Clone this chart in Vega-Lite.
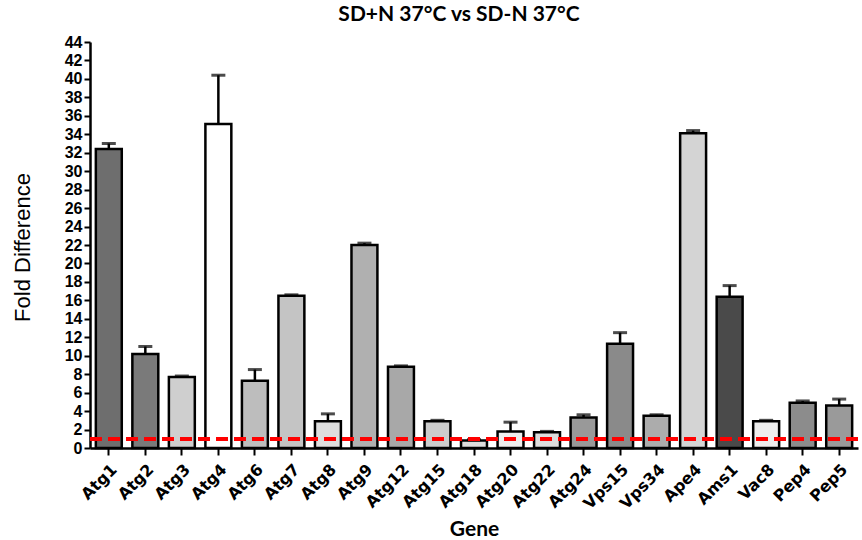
{
  "$schema": "https://vega.github.io/schema/vega-lite/v6.json",
  "autosize": "none",
  "width": 768,
  "height": 406,
  "padding": {"left": 90, "top": 42, "right": 4, "bottom": 92},
  "background": "white",
  "title": {
    "text": "SD+N 37°C vs SD-N 37°C",
    "font": "Lato",
    "fontSize": 21,
    "fontWeight": "bold",
    "color": "black",
    "anchor": "middle",
    "dx": -15,
    "offset": 9
  },
  "data": {
    "values": [
      {"gene": "Atg1", "value": 32.4, "upper": 33.0},
      {"gene": "Atg2", "value": 10.2, "upper": 11.0},
      {"gene": "Atg3", "value": 7.7, "upper": 7.8},
      {"gene": "Atg4", "value": 35.1, "upper": 40.4},
      {"gene": "Atg6", "value": 7.3, "upper": 8.5},
      {"gene": "Atg7", "value": 16.5, "upper": 16.6},
      {"gene": "Atg8", "value": 2.9, "upper": 3.7},
      {"gene": "Atg9", "value": 22.0, "upper": 22.2},
      {"gene": "Atg12", "value": 8.8, "upper": 8.9},
      {"gene": "Atg15", "value": 2.9, "upper": 3.0},
      {"gene": "Atg18", "value": 0.8, "upper": 0.9},
      {"gene": "Atg20", "value": 1.8, "upper": 2.8},
      {"gene": "Atg22", "value": 1.7, "upper": 1.8},
      {"gene": "Atg24", "value": 3.3, "upper": 3.6},
      {"gene": "Vps15", "value": 11.3, "upper": 12.5},
      {"gene": "Vps34", "value": 3.5, "upper": 3.6},
      {"gene": "Ape4", "value": 34.1, "upper": 34.4},
      {"gene": "Ams1", "value": 16.4, "upper": 17.6},
      {"gene": "Vac8", "value": 2.9, "upper": 3.0},
      {"gene": "Pep4", "value": 4.9, "upper": 5.1},
      {"gene": "Pep5", "value": 4.6, "upper": 5.3}
    ]
  },
  "encoding": {
    "x": {
      "field": "gene",
      "type": "nominal",
      "sort": null,
      "title": "Gene",
      "scale": {"paddingInner": 0.29, "paddingOuter": 0.16},
      "axis": {
        "labelAngle": -45,
        "labelFont": "DejaVu Sans",
        "labelFontWeight": "bold",
        "labelFontSize": 16,
        "labelColor": "black",
        "labelPadding": 6,
        "labelOverlap": false,
        "tickColor": "black",
        "tickWidth": 2,
        "tickSize": 7,
        "domainColor": "black",
        "domainWidth": 2.5,
        "titleFont": "Lato",
        "titleFontWeight": "bold",
        "titleFontSize": 21,
        "titleColor": "black",
        "titleBaseline": "alphabetic",
        "titleY": 87
      }
    }
  },
  "layer": [
    {
      "mark": {"type": "bar", "stroke": "black", "strokeWidth": 2.5},
      "encoding": {
        "y": {
          "field": "value",
          "type": "quantitative",
          "title": "Fold Difference",
          "scale": {"domain": [0, 44], "nice": false},
          "axis": {
            "values": [0, 2, 4, 6, 8, 10, 12, 14, 16, 18, 20, 22, 24, 26, 28, 30, 32, 34, 36, 38, 40, 42, 44],
            "grid": false,
            "labelOverlap": false,
            "labelBound": false,
            "labelFont": "Liberation Sans",
            "labelFontWeight": "bold",
            "labelFontSize": 16,
            "labelColor": "black",
            "labelPadding": 2,
            "tickColor": "black",
            "tickWidth": 2,
            "tickSize": 6,
            "domainColor": "black",
            "domainWidth": 2.5,
            "titleFont": "Liberation Sans",
            "titleFontWeight": "normal",
            "titleFontSize": 22,
            "titleColor": "black",
            "titleX": -56,
            "titleY": 205,
            "titleAngle": -90,
            "titleAlign": "center",
            "titleBaseline": "bottom"
          }
        },
        "fill": {
          "field": "gene",
          "type": "nominal",
          "legend": null,
          "scale": {
            "domain": ["Atg1", "Atg2", "Atg3", "Atg4", "Atg6", "Atg7", "Atg8", "Atg9", "Atg12", "Atg15", "Atg18", "Atg20", "Atg22", "Atg24", "Vps15", "Vps34", "Ape4", "Ams1", "Vac8", "Pep4", "Pep5"],
            "range": ["#6e6e6e", "#7a7a7a", "#cfcfcf", "#ffffff", "#bdbdbd", "#c4c4c4", "#dedede", "#b0b0b0", "#a8a8a8", "#cccccc", "#dddddd", "#eeeeee", "#dddddd", "#999999", "#8a8a8a", "#acacac", "#d4d4d4", "#4a4a4a", "#eeeeee", "#8c8c8c", "#9a9a9a"]
          }
        }
      }
    },
    {
      "mark": {"type": "rule", "color": "black", "strokeWidth": 2.5},
      "encoding": {
        "y": {
          "field": "value",
          "type": "quantitative",
          "title": "Fold Difference",
          "axis": {
            "values": [0, 2, 4, 6, 8, 10, 12, 14, 16, 18, 20, 22, 24, 26, 28, 30, 32, 34, 36, 38, 40, 42, 44],
            "grid": false,
            "labelOverlap": false,
            "labelBound": false
          }
        },
        "y2": {"field": "upper"}
      }
    },
    {
      "mark": {"type": "tick", "color": "black", "thickness": 3, "size": 14, "orient": "horizontal"},
      "encoding": {
        "y": {
          "field": "upper",
          "type": "quantitative",
          "title": "Fold Difference",
          "axis": {
            "values": [0, 2, 4, 6, 8, 10, 12, 14, 16, 18, 20, 22, 24, 26, 28, 30, 32, 34, 36, 38, 40, 42, 44],
            "grid": false,
            "labelOverlap": false,
            "labelBound": false
          }
        }
      }
    },
    {
      "mark": {"type": "rule", "color": "#ff0000", "strokeWidth": 3, "strokeDash": [12, 6]},
      "encoding": {
        "x": {"value": 0},
        "x2": {"value": 768},
        "y": {
          "datum": 1,
          "type": "quantitative",
          "title": "Fold Difference",
          "axis": {
            "values": [0, 2, 4, 6, 8, 10, 12, 14, 16, 18, 20, 22, 24, 26, 28, 30, 32, 34, 36, 38, 40, 42, 44],
            "grid": false,
            "labelOverlap": false,
            "labelBound": false
          }
        }
      }
    }
  ],
  "config": {
    "view": {"stroke": null}
  }
}
